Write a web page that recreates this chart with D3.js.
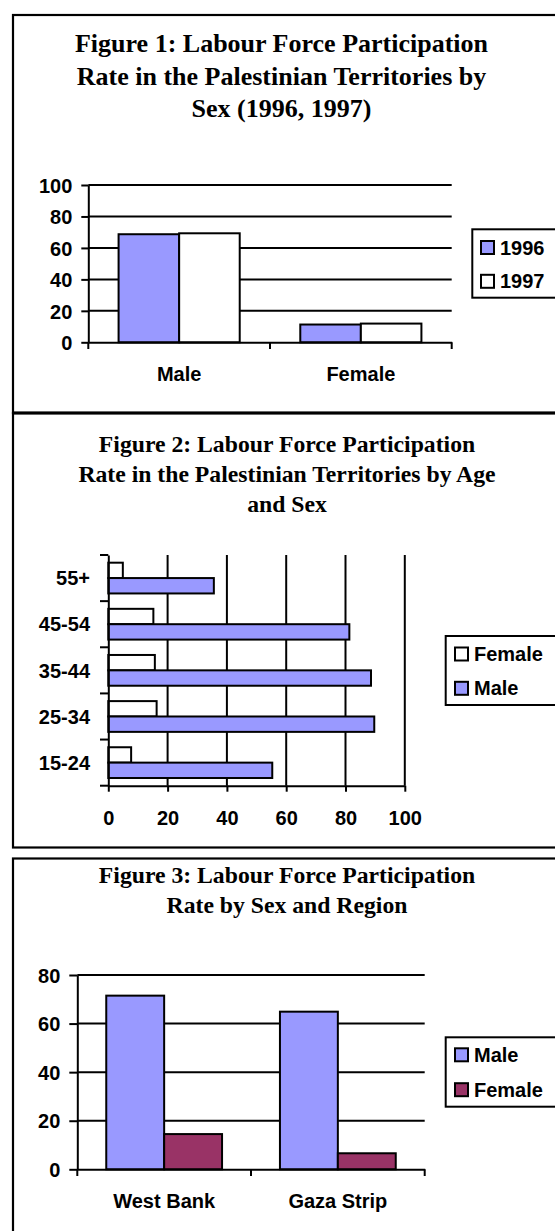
<!DOCTYPE html>
<html><head><meta charset="utf-8">
<script src="https://cdn.jsdelivr.net/npm/d3@7"></script>
<style>
html,body{margin:0;padding:0;background:#fff;overflow:hidden}
svg{display:block}
</style></head><body>
<script>
// ---------- data ----------
const fig1Categories = ["Male", "Female"];
const fig1Years = ["1996", "1997"];
const fig1Values1996 = [68.7, 11.3];
const fig1Values1997 = [69.3, 11.9];
const fig1Ticks = [0, 20, 40, 60, 80, 100];

const fig2Ages = ["55+", "45-54", "35-44", "25-34", "15-24"];
const fig2Series = ["Female", "Male"];
const fig2Female = [4.9, 15.2, 15.7, 16.3, 7.7];
const fig2Male = [35.6, 81.3, 88.6, 89.7, 55.3];
const fig2Ticks = [0, 20, 40, 60, 80, 100];

const fig3Regions = ["West Bank", "Gaza Strip"];
const fig3Series = ["Male", "Female"];
const fig3Male = [71.5, 64.9];
const fig3Female = [14.5, 6.6];
const fig3Ticks = [0, 20, 40, 60, 80];

const fig1Title = ["Figure 1: Labour Force Participation", "Rate in the Palestinian Territories by", "Sex (1996, 1997)"];
const fig2Title = ["Figure 2: Labour Force Participation", "Rate in the Palestinian Territories by Age", "and Sex"];
const fig3Title = ["Figure 3: Labour Force Participation", "Rate by Sex and Region"];

// ---------- styles ----------
const W = 555, H = 1231;
const SANS = "'Liberation Sans', Arial, sans-serif";
const SERIF = "'Liberation Serif', 'Times New Roman', serif";
const BLUE = "#9999FF", WHITE = "#FFFFFF", MAROON = "#993366";
const colors1 = {"1996": BLUE, "1997": WHITE};
const colors2 = {"Female": WHITE, "Male": BLUE};
const colors3 = {"Male": BLUE, "Female": MAROON};

const svg = d3.select("body").append("svg").attr("width", W).attr("height", H);

// frames
const frames = [[15, 413], [413, 847.5], [858.5, 1300]];
svg.selectAll("rect.frame").data(frames).join("rect")
  .attr("class", "frame")
  .attr("x", 13).attr("y", d => d[0]).attr("width", 700).attr("height", d => d[1] - d[0])
  .attr("fill", "none").attr("stroke", "#000").attr("stroke-width", 2.2);
svg.append("line").attr("x1", 13).attr("x2", 700).attr("y1", 413).attr("y2", 413)
  .attr("stroke", "#000").attr("stroke-width", 3);

function title(lines, cx, y0, lh, size) {
  svg.append("g").selectAll("text").data(lines).join("text")
    .attr("x", cx).attr("y", (d, i) => y0 + i * lh)
    .attr("text-anchor", "middle")
    .attr("font-family", SERIF).attr("font-weight", "bold").attr("font-size", size)
    .attr("fill", "#000").text(d => d);
}

function styleAxis(g) {
  g.selectAll("path.domain").attr("stroke", "#000").attr("stroke-width", 2);
  g.selectAll(".tick line").attr("stroke", "#000").attr("stroke-width", 2);
  g.selectAll("text").attr("font-family", SANS).attr("font-weight", "bold")
    .attr("font-size", 20).attr("fill", "#000");
}

function legend(items, colors, x, y, h, sx, tx, rowY) {
  const g = svg.append("g");
  g.append("rect").attr("x", x).attr("y", y).attr("width", 200).attr("height", h)
    .attr("fill", "#fff").attr("stroke", "#000").attr("stroke-width", 2);
  const it = g.selectAll("g.it").data(items).join("g").attr("class", "it");
  it.append("rect").attr("x", sx).attr("y", (d, i) => rowY[i] - 6.5)
    .attr("width", 13).attr("height", 13)
    .attr("fill", d => colors[d]).attr("stroke", "#000").attr("stroke-width", 2);
  it.append("text").attr("x", tx).attr("y", (d, i) => rowY[i] + 7)
    .attr("font-family", SANS).attr("font-weight", "bold").attr("font-size", 20)
    .text(d => d);
}

// ---------- Figure 1 ----------
(function () {
  title(fig1Title, 281.5, 52, 32.5, 26);
  const x0 = d3.scaleBand().domain(fig1Categories).range([88.3, 451.7]).padding(0);
  const x1 = d3.scaleBand().domain(fig1Years).range([0, x0.bandwidth()]).paddingInner(0).paddingOuter(0.5);
  const y = d3.scaleLinear().domain([0, 100]).range([342.3, 185]);
  const g = svg.append("g");
  g.selectAll("line.grid").data(fig1Ticks.filter(t => t > 0)).join("line")
    .attr("x1", 88.3).attr("x2", 451.7).attr("y1", d => y(d)).attr("y2", d => y(d))
    .attr("stroke", "#000").attr("stroke-width", 2);
  const rows = fig1Categories.map((c, i) => ({c, vals: [{k: "1996", v: fig1Values1996[i]}, {k: "1997", v: fig1Values1997[i]}]}));
  g.selectAll("g.grp").data(rows).join("g").attr("class", "grp")
    .attr("transform", d => `translate(${x0(d.c)},0)`)
    .selectAll("rect").data(d => d.vals).join("rect")
    .attr("x", d => x1(d.k)).attr("width", x1.bandwidth())
    .attr("y", d => y(d.v)).attr("height", d => y(0) - y(d.v))
    .attr("fill", d => colors1[d.k]).attr("stroke", "#000").attr("stroke-width", 2);
  const ya = g.append("g").attr("transform", "translate(88.3,0)")
    .call(d3.axisLeft(y).tickValues(fig1Ticks).tickSizeInner(7).tickSizeOuter(0).tickPadding(9));
  styleAxis(ya);
  ya.selectAll("text").attr("dy", "0.36em");
  const xa = g.append("g").attr("transform", "translate(0,342.3)")
    .call(d3.axisBottom(x0).tickSize(0).tickSizeOuter(0));
  styleAxis(xa);
  xa.selectAll("text").attr("y", 39).attr("dy", 0);
  const bounds = [...fig1Categories.map(c => x0(c)), x0.range()[1]];
  g.selectAll("line.xt").data(bounds).join("line")
    .attr("x1", d => d).attr("x2", d => d).attr("y1", 342.3).attr("y2", 349)
    .attr("stroke", "#000").attr("stroke-width", 2);
  legend(fig1Years, colors1, 472.3, 229.3, 68.4, 481, 500, [247.5, 281.3]);
})();

// ---------- Figure 2 ----------
(function () {
  title(fig2Title, 287, 451.7, 30, 23.7);
  const y0 = d3.scaleBand().domain(fig2Ages).range([555, 785.7]).padding(0);
  const y1 = d3.scaleBand().domain(fig2Series).range([0, y0.bandwidth()]).paddingInner(0).paddingOuter(0.5);
  const x = d3.scaleLinear().domain([0, 100]).range([108.3, 404.8]);
  const g = svg.append("g");
  g.selectAll("line.grid").data(fig2Ticks.filter(t => t > 0)).join("line")
    .attr("x1", d => x(d)).attr("x2", d => x(d)).attr("y1", 555).attr("y2", 785.7)
    .attr("stroke", "#000").attr("stroke-width", 2);
  const rows = fig2Ages.map((a, i) => ({a, vals: [{k: "Female", v: fig2Female[i]}, {k: "Male", v: fig2Male[i]}]}));
  g.selectAll("g.grp").data(rows).join("g").attr("class", "grp")
    .attr("transform", d => `translate(0,${y0(d.a)})`)
    .selectAll("rect").data(d => d.vals).join("rect")
    .attr("y", d => y1(d.k)).attr("height", y1.bandwidth())
    .attr("x", x(0)).attr("width", d => x(d.v) - x(0))
    .attr("fill", d => colors2[d.k]).attr("stroke", "#000").attr("stroke-width", 2);
  const xa = g.append("g").attr("transform", "translate(0,785.7)")
    .call(d3.axisBottom(x).tickValues(fig2Ticks).tickSizeInner(6).tickSizeOuter(0));
  styleAxis(xa);
  xa.selectAll("text").attr("y", 39.3).attr("dy", 0);
  const ya = g.append("g").attr("transform", "translate(108.3,0)")
    .call(d3.axisLeft(y0).tickSize(0).tickSizeOuter(0).tickPadding(18.3));
  styleAxis(ya);
  ya.selectAll("text").attr("dy", "0.36em");
  const bounds = [...fig2Ages.map(a => y0(a)), y0.range()[1]];
  g.selectAll("line.yt").data(bounds).join("line")
    .attr("x1", 100).attr("x2", 108.3).attr("y1", d => d).attr("y2", d => d)
    .attr("stroke", "#000").attr("stroke-width", 2);
  legend(fig2Series, colors2, 445.7, 636, 69, 455, 474, [654, 688.3]);
})();

// ---------- Figure 3 ----------
(function () {
  title(fig3Title, 287, 883.3, 30, 23.7);
  const x0 = d3.scaleBand().domain(fig3Regions).range([77.3, 424.7]).padding(0);
  const x1 = d3.scaleBand().domain(fig3Series).range([0, x0.bandwidth()]).paddingInner(0).paddingOuter(0.5);
  const y = d3.scaleLinear().domain([0, 80]).range([1169.3, 975]);
  const g = svg.append("g");
  g.selectAll("line.grid").data(fig3Ticks.filter(t => t > 0)).join("line")
    .attr("x1", 77.3).attr("x2", 424.7).attr("y1", d => y(d)).attr("y2", d => y(d))
    .attr("stroke", "#000").attr("stroke-width", 2);
  const rows = fig3Regions.map((r, i) => ({r, vals: [{k: "Male", v: fig3Male[i]}, {k: "Female", v: fig3Female[i]}]}));
  g.selectAll("g.grp").data(rows).join("g").attr("class", "grp")
    .attr("transform", d => `translate(${x0(d.r)},0)`)
    .selectAll("rect").data(d => d.vals).join("rect")
    .attr("x", d => x1(d.k)).attr("width", x1.bandwidth())
    .attr("y", d => y(d.v)).attr("height", d => y(0) - y(d.v))
    .attr("fill", d => colors3[d.k]).attr("stroke", "#000").attr("stroke-width", 2);
  const ya = g.append("g").attr("transform", "translate(77.3,0)")
    .call(d3.axisLeft(y).tickValues(fig3Ticks).tickSizeInner(8).tickSizeOuter(0).tickPadding(9));
  styleAxis(ya);
  ya.selectAll("text").attr("dy", "0.36em");
  const xa = g.append("g").attr("transform", "translate(0,1169.3)")
    .call(d3.axisBottom(x0).tickSize(0).tickSizeOuter(0));
  styleAxis(xa);
  xa.selectAll("text").attr("y", 39).attr("dy", 0);
  const bounds = [...fig3Regions.map(r => x0(r)), x0.range()[1]];
  g.selectAll("line.xt").data(bounds).join("line")
    .attr("x1", d => d).attr("x2", d => d).attr("y1", 1169.3).attr("y2", 1176)
    .attr("stroke", "#000").attr("stroke-width", 2);
  legend(fig3Series, colors3, 445.7, 1037.3, 69.4, 455, 474, [1054.8, 1089.7]);
})();
</script>
</body></html>
